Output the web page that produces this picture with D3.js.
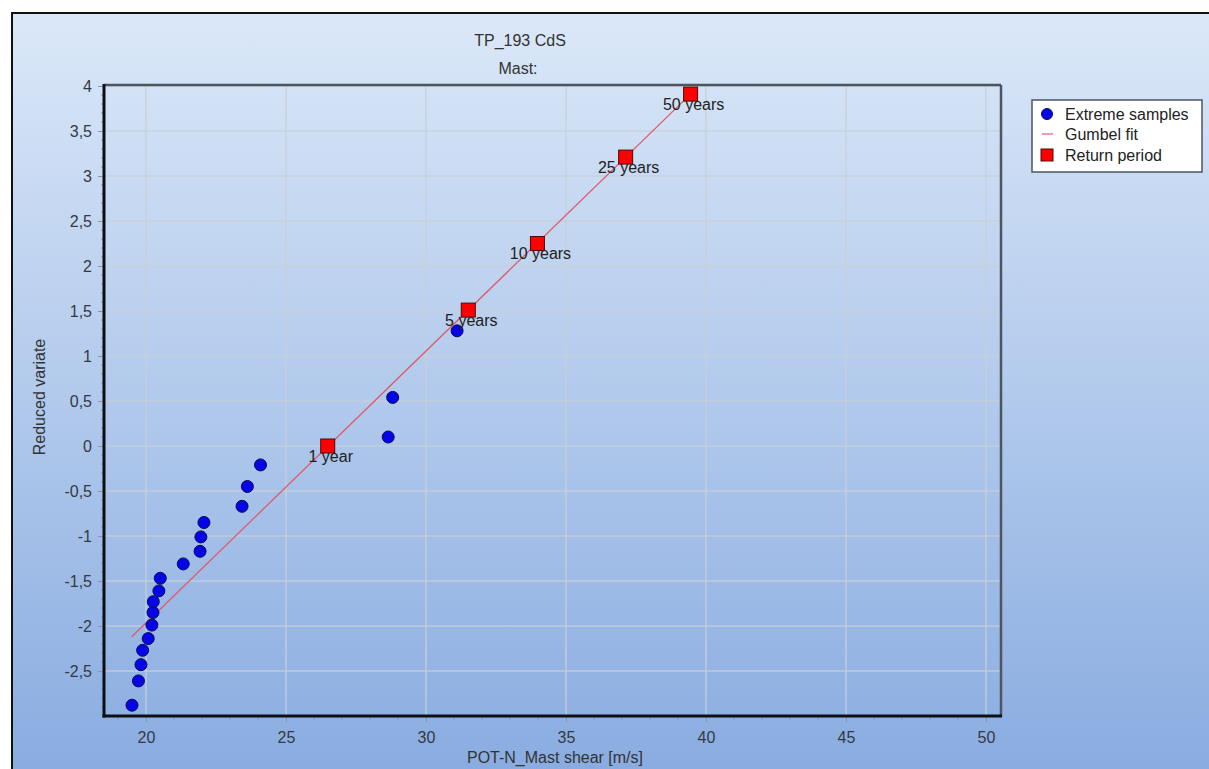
<!DOCTYPE html>
<html>
<head>
<meta charset="utf-8">
<script src="https://cdn.jsdelivr.net/npm/d3@7"></script>
<style>
  body { margin: 0; background: #fff; }
  svg { display: block; font-family: "Liberation Sans", Arial, sans-serif; }
</style>
</head>
<body>
<svg width="1209" height="769"></svg>
<script>
// extreme samples (x = mast shear m/s, y = reduced variate)
const sampleX = [19.5, 19.73, 19.82, 19.88, 20.08, 20.21, 20.25, 20.26, 20.46, 20.51,
  21.33, 21.93, 21.96, 22.07, 23.43, 23.62, 24.09, 28.65, 28.81, 31.11];
const sampleY = [-2.88, -2.61, -2.43, -2.27, -2.14, -1.99, -1.85, -1.73, -1.61, -1.47,
  -1.31, -1.17, -1.01, -0.85, -0.67, -0.45, -0.21, 0.1, 0.54, 1.28];

// return periods
const periodLabels = ["1 year", "5 years", "10 years", "25 years", "50 years"];
const periodX = [26.49, 31.51, 33.98, 37.13, 39.45];
const periodY = [0, 1.51, 2.25, 3.21, 3.91];

// gumbel fit line end points
const fitX = [19.49, 39.45];
const fitY = [-2.12, 3.91];

const xTicks = [20, 25, 30, 35, 40, 45, 50];
const yTicks = [-2.5, -2, -1.5, -1, -0.5, 0, 0.5, 1, 1.5, 2, 2.5, 3, 3.5, 4];

const legendItems = ["Extreme samples", "Gumbel fit", "Return period"];

const svg = d3.select("svg");
const W = 1209, H = 769;
const plot = { left: 104, right: 1000, top: 86, bottom: 716 };
const FONT = "16px";

const defs = svg.append("defs");
const bg = defs.append("linearGradient")
  .attr("id", "bg").attr("x1", 0).attr("y1", 0).attr("x2", 0).attr("y2", 1);
bg.append("stop").attr("offset", "0%").attr("stop-color", "#dbe8f8");
bg.append("stop").attr("offset", "100%").attr("stop-color", "#88abe0");

svg.append("rect").attr("width", W).attr("height", H).attr("fill", "#fff");
svg.append("rect")
  .attr("x", 12).attr("y", 13)
  .attr("width", W).attr("height", H)
  .attr("fill", "url(#bg)")
  .attr("stroke", "#111")
  .attr("stroke-width", 2);

const x = d3.scaleLinear().domain([18.5, 50.5]).range([plot.left, plot.right]);
const y = d3.scaleLinear().domain([-3, 4]).range([plot.bottom, plot.top]);

const fmt = v => String(v).replace(".", ",");

// grid
const grid = svg.append("g").attr("class", "grid");
grid.selectAll("line.gx")
  .data(xTicks)
  .enter()
  .append("line")
  .attr("x1", d => x(d)).attr("x2", d => x(d))
  .attr("y1", plot.top).attr("y2", plot.bottom)
  .attr("stroke", "#c9d0d8").attr("stroke-opacity", 0.8)
  .attr("stroke-width", 1.5);
grid.selectAll("line.gy")
  .data(yTicks)
  .enter()
  .append("line")
  .attr("x1", plot.left).attr("x2", plot.right)
  .attr("y1", d => y(d)).attr("y2", d => y(d))
  .attr("stroke", "#c9d0d8").attr("stroke-opacity", 0.8)
  .attr("stroke-width", 1.5);

// frame top / right
svg.append("line")
  .attr("x1", plot.left).attr("x2", plot.right + 1)
  .attr("y1", plot.top - 1).attr("y2", plot.top - 1)
  .attr("stroke", "#4c5560").attr("stroke-width", 2.5);
svg.append("line")
  .attr("x1", plot.right + 1).attr("x2", plot.right + 1)
  .attr("y1", plot.top - 1).attr("y2", plot.bottom)
  .attr("stroke", "#4c5560").attr("stroke-width", 2.5);

// axes
const xAxis = svg.append("g")
  .attr("transform", `translate(0,${plot.bottom})`)
  .call(d3.axisBottom(x).tickValues(xTicks).tickFormat(fmt).tickSize(6).tickPadding(10));
const yAxis = svg.append("g")
  .attr("transform", `translate(${plot.left},0)`)
  .call(d3.axisLeft(y).tickValues(yTicks).tickFormat(fmt).tickSize(6).tickPadding(6));

[xAxis, yAxis].forEach(ax => {
  ax.select(".domain").remove();
  ax.selectAll(".tick line").attr("stroke", "#8a96a4").attr("stroke-width", 1);
  ax.selectAll(".tick text")
    .attr("fill", "#333a44")
    .style("font-size", FONT)
    .style("font-family", "'Liberation Sans', Arial, sans-serif");
});

// minor ticks
const minorX = d3.range(19, 51, 1).filter(v => v % 5 !== 0);
svg.append("g").selectAll("line")
  .data(minorX)
  .enter()
  .append("line")
  .attr("x1", d => x(d)).attr("x2", d => x(d))
  .attr("y1", plot.bottom).attr("y2", plot.bottom + 4)
  .attr("stroke", "#8a96a4");
const minorY = d3.range(-29, 40, 1).map(v => v / 10).filter(v => Math.round(v * 10) % 5 !== 0);
svg.append("g").selectAll("line")
  .data(minorY)
  .enter()
  .append("line")
  .attr("x1", plot.left - 3).attr("x2", plot.left)
  .attr("y1", d => y(d)).attr("y2", d => y(d))
  .attr("stroke", "#8a96a4");

// thick axis lines
svg.append("line")
  .attr("x1", plot.left).attr("x2", plot.left)
  .attr("y1", plot.top - 2).attr("y2", plot.bottom + 1.5)
  .attr("stroke", "#0c0f14").attr("stroke-width", 3);
svg.append("line")
  .attr("x1", plot.left - 1.5).attr("x2", plot.right + 2)
  .attr("y1", plot.bottom).attr("y2", plot.bottom)
  .attr("stroke", "#0c0f14").attr("stroke-width", 3);

// titles
svg.append("text")
  .attr("x", 520).attr("y", 46)
  .attr("text-anchor", "middle")
  .attr("fill", "#333")
  .style("font-size", FONT)
  .text("TP_193 CdS");
svg.append("text")
  .attr("x", 518).attr("y", 74)
  .attr("text-anchor", "middle")
  .attr("fill", "#333")
  .style("font-size", FONT)
  .text("Mast:");
svg.append("text")
  .attr("x", 555).attr("y", 763)
  .attr("text-anchor", "middle")
  .attr("fill", "#333")
  .style("font-size", FONT)
  .text("POT-N_Mast shear [m/s]");
svg.append("text")
  .attr("transform", "translate(45,397) rotate(-90)")
  .attr("text-anchor", "middle")
  .attr("fill", "#333")
  .style("font-size", FONT)
  .text("Reduced variate");

// gumbel fit
const fitData = fitX.map((v, i) => [v, fitY[i]]);
svg.append("path")
  .datum(fitData)
  .attr("d", d3.line().x(d => x(d[0])).y(d => y(d[1])))
  .attr("fill", "none")
  .attr("stroke", "#df5a6a")
  .attr("stroke-width", 1.3);

// extreme samples
const samples = sampleX.map((v, i) => ({ x: v, y: sampleY[i] }));
svg.append("g").selectAll("circle")
  .data(samples)
  .enter()
  .append("circle")
  .attr("cx", d => x(d.x))
  .attr("cy", d => y(d.y))
  .attr("r", 6)
  .attr("fill", "#0505e8")
  .attr("stroke", "#0a0a50")
  .attr("stroke-width", 1);

// return periods
const periods = periodX.map((v, i) => ({ x: v, y: periodY[i], label: periodLabels[i] }));
const pg = svg.append("g").selectAll("g")
  .data(periods)
  .enter()
  .append("g")
  .attr("transform", d => `translate(${x(d.x)},${y(d.y)})`);
pg.append("rect")
  .attr("x", -7).attr("y", -7)
  .attr("width", 14).attr("height", 14)
  .attr("fill", "#ff0000")
  .attr("stroke", "#4a0a0a")
  .attr("stroke-width", 1);
pg.append("text")
  .attr("x", 3).attr("y", 15.5)
  .attr("text-anchor", "middle")
  .attr("fill", "#222")
  .style("font-size", FONT)
  .text(d => d.label);

// legend
const lg = svg.append("g").attr("transform", "translate(1032,100)");
lg.append("rect")
  .attr("x", 0).attr("y", 0)
  .attr("width", 170).attr("height", 72)
  .attr("fill", "#fff")
  .attr("stroke", "#4c5560")
  .attr("stroke-width", 1.5);
lg.append("circle").attr("cx", 15).attr("cy", 14).attr("r", 5.5)
  .attr("fill", "#0505e8").attr("stroke", "#0a0a50");
lg.append("line").attr("x1", 10).attr("x2", 21).attr("y1", 34).attr("y2", 34)
  .attr("stroke", "#e08090").attr("stroke-width", 1.5);
lg.append("rect").attr("x", 9).attr("y", 49).attr("width", 12).attr("height", 12)
  .attr("fill", "#ff0000").attr("stroke", "#4a0a0a");
lg.selectAll("text")
  .data(legendItems)
  .enter()
  .append("text")
  .attr("x", 33)
  .attr("y", (d, i) => 19.7 + i * 20.5)
  .attr("fill", "#222")
  .style("font-size", FONT)
  .text(d => d);
</script>
</body>
</html>
